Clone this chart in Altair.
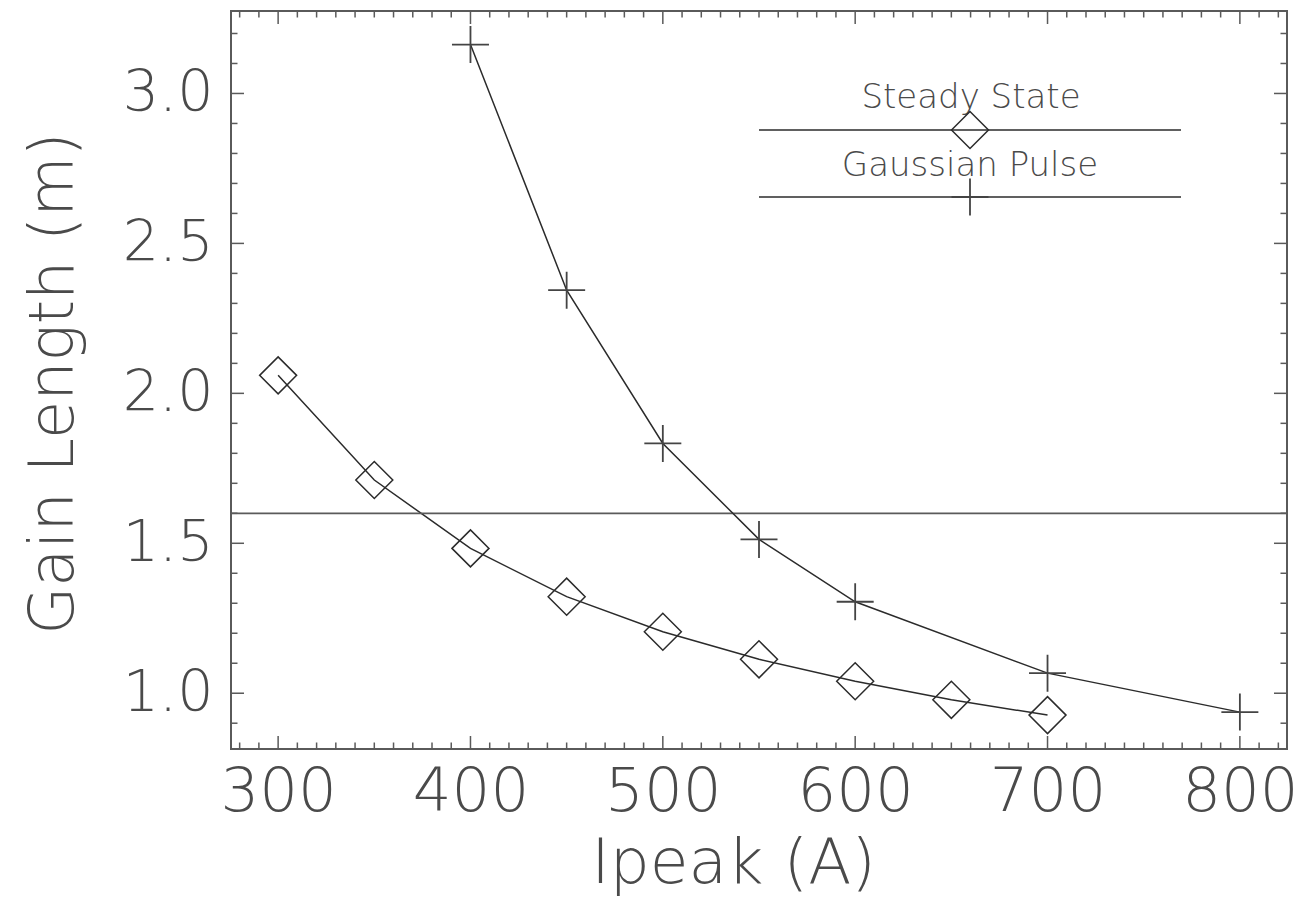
import altair as alt
import pandas as pd

# ---- data ----
ss_x = [300, 350, 400, 450, 500, 550, 600, 650, 700]
ss_y = [2.06, 1.711, 1.483, 1.322, 1.205, 1.113, 1.04, 0.978, 0.927]
gp_x = [400, 450, 500, 550, 600, 700, 800]
gp_y = [3.163, 2.344, 1.833, 1.513, 1.305, 1.067, 0.937]
ref_y = [1.6]
series_names = ["Steady State", "Gaussian Pulse"]

x_major = [300, 400, 500, 600, 700, 800]
x_minor = [v for v in range(280, 830, 10) if v % 100 != 0]
y_major = [1.0, 1.5, 2.0, 2.5, 3.0]
y_minor = [round(0.9 + 0.1 * i, 1) for i in range(24) if round(0.9 + 0.1 * i, 1) not in y_major]

W, H = 1056, 738
FONT = "DejaVu Sans"
LINE = "#2b2b2b"
AXC = "#5a5a5a"
TXT = "#4a4a4a"
PLUS = "M-1,0L1,0M0,-1L0,1"
MSIZE = 1369

xs = alt.Scale(domain=[275.5, 824.5], nice=False, zero=False)
ys = alt.Scale(domain=[0.814, 3.275], nice=False, zero=False)

ss = pd.DataFrame({"x": ss_x, "y": ss_y})
gp = pd.DataFrame({"x": gp_x, "y": gp_y})

x_axis = alt.Axis(title="Ipeak (A)", values=x_major, ticks=False, tickSize=0, domain=False,
                  grid=False, labelFont=FONT, labelFontSize=61, labelFontWeight=200,
                  labelColor=TXT, labelPadding=13, labelFlush=False, labelOverlap=False,
                  titleFont=FONT, titleFontSize=63, titleFontWeight=200, titleColor=TXT,
                  titleX=502, titleY=133, titleBaseline="alphabetic")
y_axis = alt.Axis(title="Gain Length (m)", values=y_major, format=".1f", ticks=False, tickSize=0,
                  domain=False, grid=False, labelFont=FONT, labelFontSize=57, labelFontWeight=200,
                  labelColor=TXT, labelPadding=18, labelFlush=False, labelOverlap=False,
                  titleFont=FONT, titleFontSize=62, titleFontWeight=200, titleColor=TXT,
                  titleX=-159, titleY=372, titleBaseline="alphabetic")


def X(field):
    return alt.X(field, type="quantitative", scale=xs, axis=x_axis)


def Y(field):
    return alt.Y(field, type="quantitative", scale=ys, axis=y_axis)


ss_line = alt.Chart(ss).mark_line(color=LINE, strokeWidth=1.5).encode(x=X("x"), y=Y("y"))
ss_pts = alt.Chart(ss).mark_point(shape="diamond", size=MSIZE, filled=False, color=LINE,
                                  strokeWidth=1.5, opacity=1).encode(x=X("x"), y=Y("y"))
gp_line = alt.Chart(gp).mark_line(color=LINE, strokeWidth=1.5).encode(x=X("x"), y=Y("y"))
gp_pts = alt.Chart(gp).mark_point(shape=PLUS, size=MSIZE, filled=False, color="#444",
                                  strokeWidth=1.8, opacity=1).encode(x=X("x"), y=Y("y"))

ref = alt.Chart(pd.DataFrame({"y": ref_y})).mark_rule(color=AXC, strokeWidth=1.8).encode(y=Y("y"))


# ---- IDL-style inward ticks on all four sides ----
def xticks(vals, length):
    d = pd.DataFrame({"x": vals})
    b = alt.Chart(d).mark_rule(color=AXC, strokeWidth=1.5).encode(
        x=X("x"), y=alt.value(H), y2=alt.value(H - length))
    t = alt.Chart(d).mark_rule(color=AXC, strokeWidth=1.5).encode(
        x=X("x"), y=alt.value(0), y2=alt.value(length))
    return [b, t]


def yticks(vals, length):
    d = pd.DataFrame({"y": vals})
    l = alt.Chart(d).mark_rule(color=AXC, strokeWidth=1.5).encode(
        y=Y("y"), x=alt.value(0), x2=alt.value(length))
    r = alt.Chart(d).mark_rule(color=AXC, strokeWidth=1.5).encode(
        y=Y("y"), x=alt.value(W), x2=alt.value(W - length))
    return [l, r]


ticks = xticks(x_major, 13) + xticks(x_minor, 6.5) + yticks(y_major, 13) + yticks(y_minor, 6.5)

# ---- legend drawn inside the plot ----
one = pd.DataFrame({"k": [0]})
leg_text1 = alt.Chart(one).mark_text(text=series_names[0], font=FONT, fontSize=34, fontWeight=200,
                                      color=TXT, align="center", baseline="alphabetic").encode(
    x=alt.value(740), y=alt.value(97))
leg_rule1 = alt.Chart(one).mark_rule(color=LINE, strokeWidth=1.5).encode(
    x=alt.value(528), x2=alt.value(950), y=alt.value(119))
leg_pt1 = alt.Chart(one).mark_point(shape="diamond", size=MSIZE, filled=False, color=LINE,
                                    strokeWidth=1.5, opacity=1).encode(
    x=alt.value(739), y=alt.value(119))
leg_text2 = alt.Chart(one).mark_text(text=series_names[1], font=FONT, fontSize=34, fontWeight=200,
                                      color=TXT, align="center", baseline="alphabetic").encode(
    x=alt.value(739), y=alt.value(165))
leg_rule2 = alt.Chart(one).mark_rule(color=LINE, strokeWidth=1.5).encode(
    x=alt.value(528), x2=alt.value(950), y=alt.value(186))
leg_pt2 = alt.Chart(one).mark_point(shape=PLUS, size=MSIZE, filled=False, color="#444",
                                    strokeWidth=1.8, opacity=1).encode(
    x=alt.value(739), y=alt.value(186))

chart = alt.layer(
    ss_line, *ticks, ref, ss_pts, gp_line, gp_pts,
    leg_text1, leg_rule1, leg_pt1, leg_text2, leg_rule2, leg_pt2,
).properties(
    width=W, height=H,
    autosize=alt.AutoSizeParams(type="none"),
    padding={"left": 231, "top": 11, "right": 19, "bottom": 151},
    background="white",
).configure_view(stroke=AXC, strokeWidth=2)

chart.save("out.html", embed_options={"renderer": "svg", "actions": False})
